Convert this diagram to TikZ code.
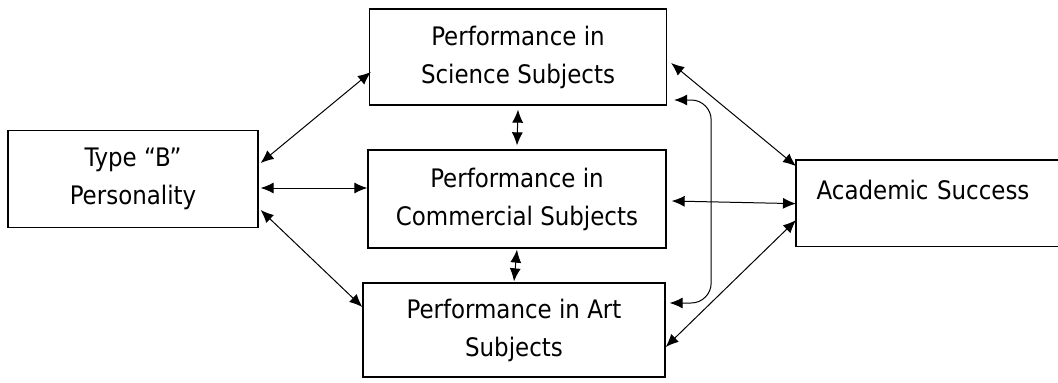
\documentclass[tikz,border=0pt]{standalone}
\usepackage{fontspec}
\setmainfont{DejaVu Sans Condensed}
\usetikzlibrary{arrows.meta}
\begin{document}
\begin{tikzpicture}[x=1pt, y=-1pt, line width=1.3pt, main/.style = {draw, align=center, inner sep=0pt, font=\fontsize{25.5}{38}\selectfont}, both/.style = {{Latex[length=13pt,width=11pt]}-{Latex[length=13pt,width=11pt]}, line width=1pt}]
      \useasboundingbox (0,0) rectangle (1058,383);
      \node[main, minimum width=250pt, minimum height=97pt] (1) at (133,179) {Type “B”\\Personality};
      \node[main, minimum width=297pt, minimum height=96pt] (2) at (518,57) {Performance in\\Science Subjects};
      \node[main, minimum width=298pt, minimum height=98pt] (3) at (517,199) {Performance in\\Commercial Subjects};
      \node[main, minimum width=302pt, minimum height=94pt] (4) at (514,330) {Performance in Art\\Subjects};
      \node[main, draw=none, anchor=north west, align=left, inner xsep=20pt, text width=232pt, text height=39pt, text depth=46pt] (5) at (796,160) {Academic Success};
      \draw (5.north east) -- (5.north west) -- (5.south west) -- (5.south east);

      \draw[both] ([xshift=2pt,yshift=16pt]1.east) -- ([xshift=2pt,yshift=-15pt]2.west);
      \draw[both] ([xshift=2pt,yshift=-9pt]1.east) -- ([yshift=11pt]3.west);
      \draw[both] ([xshift=2pt,yshift=-31pt]1.east) -- ([yshift=23pt]4.west);

      \draw[both] ([yshift=-4pt]2.south) -- ([yshift=4pt]3.north);
      \draw[both] ([yshift=-1pt]3.south) -- ([yshift=1pt]4.north);

      \draw[both] ([xshift=4pt,yshift=-6pt]2.east) -- ([yshift=37pt]5.west);
      \draw[both] ([xshift=5pt,yshift=-2pt]3.east) -- ([yshift=-0.5pt]5.west);
      \draw[both] ([yshift=-17pt]4.east) -- ([yshift=-17pt]5.west);
      \draw[both, rounded corners=20pt] ([xshift=7pt,yshift=-43pt]2.east) -- ++(37,0) |- ([xshift=4pt,yshift=27pt]4.east);
    \end{tikzpicture}
\end{document}
